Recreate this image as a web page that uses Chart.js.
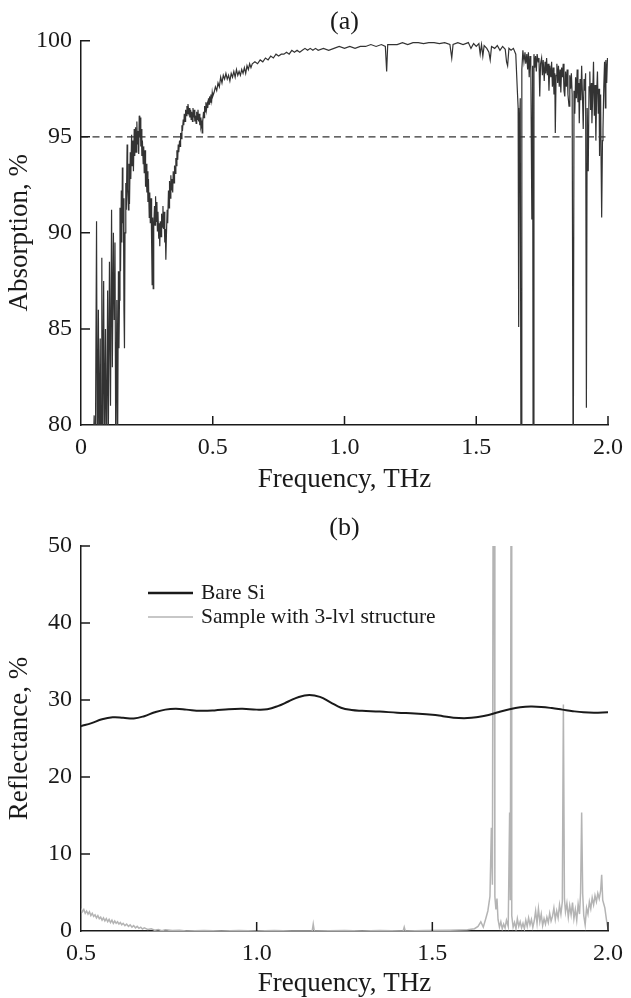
<!DOCTYPE html>
<html>
<head>
<meta charset="utf-8">
<title>Absorption and reflectance spectra</title>
<script src="https://cdn.jsdelivr.net/npm/chart.js@4.4.1/dist/chart.umd.min.js"></script>
<style>
  html, body { margin: 0; padding: 0; background: #fff; }
  #wrap { position: relative; width: 631px; height: 998px; overflow: hidden; }
  canvas { position: absolute; left: 0; }
  #absChart { top: 0; }
  #refChart { top: 498px; }
</style>
</head>
<body>
<div id="wrap">
  <canvas id="absChart" width="631" height="498"></canvas>
  <canvas id="refChart" width="631" height="500"></canvas>
</div>
<script>
// (a) absorption of the 3-level structure
const absFreq = [
  0.040, 0.050, 0.054, 0.059, 0.062, 0.066, 0.069, 0.073, 0.076, 0.079,
  0.082, 0.086, 0.089, 0.093, 0.097, 0.101, 0.104, 0.108, 0.112, 0.116,
  0.119, 0.123, 0.126, 0.129, 0.132, 0.136, 0.139, 0.142, 0.144,
  0.146, 0.148, 0.150, 0.153, 0.155, 0.157, 0.159, 0.161, 0.163, 0.165,
  0.167, 0.170, 0.172, 0.175, 0.177, 0.180, 0.182, 0.184, 0.187, 0.189,
  0.192, 0.194, 0.197, 0.199, 0.202, 0.204, 0.207, 0.209, 0.212, 0.214,
  0.217, 0.219, 0.221, 0.223, 0.225, 0.227, 0.229, 0.231, 0.233, 0.236,
  0.238, 0.240, 0.243, 0.245, 0.247, 0.250, 0.252, 0.254, 0.256, 0.259,
  0.261, 0.263, 0.266, 0.268, 0.270, 0.272, 0.274, 0.276, 0.279, 0.281,
  0.283, 0.285, 0.288, 0.290, 0.292, 0.295, 0.297, 0.299, 0.301, 0.304,
  0.306, 0.308, 0.311, 0.313, 0.315, 0.318, 0.320, 0.322, 0.324, 0.327,
  0.329, 0.332, 0.334, 0.336, 0.339, 0.341, 0.343, 0.346, 0.348, 0.350,
  0.353, 0.355, 0.357, 0.360, 0.362, 0.364, 0.367, 0.369, 0.371, 0.374,
  0.376, 0.378, 0.381, 0.383, 0.385, 0.388, 0.390, 0.392, 0.395, 0.397,
  0.399, 0.402, 0.404, 0.406, 0.409, 0.411, 0.413, 0.416, 0.418, 0.420,
  0.423, 0.425, 0.427, 0.430, 0.432, 0.434, 0.437, 0.439, 0.441, 0.444,
  0.446, 0.448, 0.451, 0.453, 0.455, 0.458, 0.460, 0.462, 0.465, 0.467,
  0.469, 0.472, 0.474, 0.476, 0.479, 0.481, 0.484, 0.486, 0.488, 0.491,
  0.493, 0.496, 0.498, 0.500, 0.505, 0.510, 0.515, 0.520, 0.525, 0.530,
  0.535, 0.540, 0.545, 0.550, 0.555, 0.560, 0.565, 0.570, 0.575, 0.580,
  0.585, 0.590, 0.595, 0.600, 0.605, 0.610, 0.615, 0.620, 0.625, 0.630,
  0.635, 0.640, 0.645, 0.650, 0.660, 0.670, 0.680, 0.690, 0.700, 0.710,
  0.720, 0.730, 0.740, 0.750, 0.760, 0.770, 0.780, 0.790, 0.800, 0.810,
  0.820, 0.830, 0.840, 0.850, 0.860, 0.870, 0.880, 0.890, 0.900, 0.920,
  0.940, 0.960, 0.980, 1.000, 1.020, 1.040, 1.060, 1.080, 1.100, 1.120,
  1.140, 1.155, 1.160, 1.164, 1.180, 1.200, 1.220, 1.240, 1.260, 1.280,
  1.300, 1.320, 1.340, 1.360, 1.380, 1.400, 1.407, 1.412, 1.430, 1.450,
  1.470, 1.480, 1.490, 1.500, 1.510, 1.515, 1.520, 1.525, 1.530, 1.540,
  1.548, 1.553, 1.558, 1.570, 1.580, 1.590, 1.600, 1.610, 1.615, 1.619,
  1.624, 1.632, 1.641, 1.650, 1.656, 1.659, 1.661, 1.664, 1.667, 1.670,
  1.673, 1.677, 1.681, 1.685, 1.688, 1.692, 1.695, 1.698, 1.701, 1.704,
  1.707, 1.711, 1.714, 1.716, 1.719, 1.722, 1.725, 1.728, 1.731, 1.735,
  1.738, 1.741, 1.744, 1.748, 1.751, 1.754, 1.758, 1.761, 1.764, 1.767,
  1.770, 1.773, 1.776, 1.779, 1.783, 1.786, 1.789, 1.792, 1.795, 1.798,
  1.800, 1.803, 1.806, 1.809, 1.812, 1.815, 1.818, 1.821, 1.824, 1.827,
  1.830, 1.833, 1.836, 1.839, 1.842, 1.845, 1.848, 1.852, 1.855, 1.858,
  1.861, 1.864, 1.868, 1.871, 1.874, 1.877, 1.880, 1.883, 1.886, 1.889,
  1.891, 1.894, 1.897, 1.900, 1.903, 1.906, 1.909, 1.912, 1.915, 1.918,
  1.921, 1.925, 1.928, 1.931, 1.934, 1.937, 1.939, 1.942, 1.945, 1.948,
  1.951, 1.954, 1.957, 1.960, 1.963, 1.966, 1.968, 1.970, 1.972, 1.974,
  1.976, 1.979, 1.981, 1.984, 1.987, 1.990, 1.992, 1.995, 1.998
];
const absValue = [
  76, 80.5, 77, 90.6, 77, 86, 78, 84.5, 77, 88.7,
  79, 87.5, 78, 85, 77.5, 87, 80, 88.5, 81, 91.2,
  83, 90, 85.5, 89.5, 78, 86.5, 79, 88, 84,
  86.5, 91.3, 88, 92.2, 89.5, 93.4, 90.5, 91.8, 86, 84,
  90, 92.6, 91.2, 94.6, 92.3, 91.2, 93.6, 91.5, 94.2, 92.8,
  95.1, 93.5, 94.8, 93.2, 95.4, 94, 95.5, 94.2, 95.8, 94.6,
  95.3, 94.1, 96.1, 95, 96, 94.5, 95.4, 94, 94.8, 93.6,
  94.5, 93.1, 94.3, 92.4, 93.6, 92.1, 93.2, 91.6, 92.8, 90.8,
  92.1, 90.5, 91.8, 89.5, 87.3, 90.8, 87.1, 90.3, 91.4, 90.4,
  91.9, 90.6, 91.6, 90.1, 91.1, 89.7, 90.5, 89.3, 90.6, 89.8,
  91, 90.3, 91.4, 90.2, 91.1, 89.5, 90.2, 88.6, 89.8, 91.2,
  90.5, 92.2, 91.3, 92.7, 91.8, 93, 92.2, 92.8, 92.1, 93.2,
  92.6, 93.5, 93.1, 93.9, 93.5, 94.3, 93.8, 94.6, 94.2, 94.8,
  94.5, 95.2, 94.9, 95.6, 95.3, 95.9, 95.6, 96.2, 95.8, 96.4,
  96.1, 96.6, 96.2, 96.7, 96.3, 96.5, 96, 96.4, 95.9, 96.3,
  95.8, 96.5, 96, 96.4, 95.8, 96.1, 95.7, 96.3, 95.9, 96.4,
  95.8, 96.2, 95.6, 96, 95.5, 95.7, 95.2, 95.8, 96.3, 96,
  96.6, 96.3, 96.8, 96.4, 96.7, 96.5, 97, 96.7, 97.1, 96.8,
  97.2, 96.9, 97.3, 97.1, 97.3, 97.6, 97.4, 97.8, 97.6, 98.1,
  97.8, 98.2, 98, 98.3, 98, 98.2, 97.9, 98.3, 98.1, 98.4,
  98.1, 98.5, 98.2, 98.4, 98.2, 98.5, 98.3, 98.6, 98.3, 98.7,
  98.5, 98.8, 98.6, 98.8, 98.9, 98.8, 99, 98.9, 99.1, 99,
  99.2, 99.1, 99.3, 99.2, 99.3, 99.3, 99.4, 99.3, 99.5, 99.4,
  99.5, 99.4, 99.5, 99.6, 99.5, 99.6, 99.5, 99.6, 99.5, 99.6,
  99.5, 99.6, 99.7, 99.6, 99.7, 99.6, 99.7, 99.7, 99.8, 99.7,
  99.8, 99.7, 98.4, 99.8, 99.8, 99.8, 99.9, 99.8, 99.9, 99.9,
  99.85, 99.9, 99.9, 99.85, 99.9, 99.8, 99.1, 99.8, 99.9, 99.8,
  99.9, 99.6, 99.85, 99.7, 99.85, 99.3, 99.8, 99.2, 99.75, 99.6,
  99.4, 99.0, 99.7, 99.6, 99.75, 99.5, 99.7, 99.55, 98.9, 98.7,
  99.6, 99.5, 99.6, 99.3, 97.4, 96.5, 85.1, 95.3, 97, 75,
  98.5, 99.5, 98.9, 99.4, 98.8, 99.3, 98.5, 99.4, 98.1, 99.2,
  98.8, 90.7, 98.7, 75, 99.3, 98.6, 99.2, 98.4, 99.3, 98.9,
  99.1, 97.1, 98.8, 99.1, 98.2, 99.0, 97.9, 98.9, 98.3, 99.1,
  98.2, 98.8, 97.4, 98.7, 98.1, 98.9, 97.6, 98.6, 97.2, 98.3,
  95.2, 98.2, 98.8, 97.8, 98.7, 97.6, 98.5, 97.3, 98.6, 98.1,
  98.8, 97.4, 97.1, 98.4, 97.6, 98.5, 97.2, 96.6, 98.2, 97.5,
  98.3, 97.2, 75, 97.4, 96.2, 98.1, 97, 98.5, 96.8, 97.8,
  95.7, 98, 96.9, 98.7, 97.2, 95.4, 98, 97.4, 98.3, 80.9,
  96.5, 93.2, 97.6, 98.4, 96.4, 97.8, 95.7, 97.2, 98.9, 96.1,
  97.7, 94.8, 97.3, 98.4, 96.2, 97.5, 94, 96.8, 97.2, 93.5,
  90.8, 94.8, 95.4, 97.6, 98.9, 96.5, 99, 97.8, 99.1
];
const absLimit = 95;
const absXTicks = [0, 0.5, 1.0, 1.5, 2.0];
const absXLabels = ['0', '0.5', '1.0', '1.5', '2.0'];
const absYTicks = [80, 85, 90, 95, 100];

// (b) reflectance
const seriesNames = ['Bare Si', 'Sample with 3-lvl structure'];
const bareFreq = [
  0.50, 0.53, 0.56, 0.59, 0.62, 0.65, 0.68, 0.71, 0.74, 0.77,
  0.80, 0.84, 0.88, 0.92, 0.96, 1.00, 1.03, 1.06, 1.09, 1.12,
  1.15, 1.18, 1.21, 1.24, 1.27, 1.30, 1.35, 1.40, 1.45, 1.50,
  1.53, 1.56, 1.60, 1.63, 1.66, 1.69, 1.72, 1.75, 1.78, 1.81,
  1.84, 1.87, 1.90, 1.93, 1.96, 2.00
];
const bareSi = [
  26.6, 27.0, 27.5, 27.75, 27.7, 27.6, 27.9, 28.4, 28.75, 28.85,
  28.75, 28.6, 28.65, 28.8, 28.85, 28.75, 28.8, 29.2, 29.8, 30.4,
  30.65, 30.4, 29.7, 29.0, 28.7, 28.6, 28.5, 28.35, 28.25, 28.1,
  27.9, 27.7, 27.65, 27.8, 28.05, 28.45, 28.8, 29.05, 29.15, 29.1,
  28.95, 28.75, 28.55, 28.4, 28.35, 28.4
];
const sampleFreq = [
  0.500, 0.504, 0.508, 0.512, 0.516, 0.520, 0.524, 0.528, 0.532, 0.536,
  0.540, 0.544, 0.548, 0.552, 0.556, 0.560, 0.564, 0.568, 0.572, 0.576,
  0.580, 0.584, 0.588, 0.592, 0.596, 0.600, 0.604, 0.608, 0.612, 0.616,
  0.620, 0.625, 0.630, 0.635, 0.640, 0.645, 0.650, 0.655, 0.660, 0.665,
  0.670, 0.675, 0.680, 0.690, 0.700, 0.710, 0.720, 0.730, 0.740, 0.760,
  0.780, 0.800, 0.850, 0.900, 0.950, 1.000, 1.050, 1.100, 1.158, 1.161,
  1.164, 1.250, 1.300, 1.350, 1.417, 1.420, 1.423, 1.480, 1.550, 1.600,
  1.620, 1.630, 1.638, 1.645, 1.652, 1.658, 1.664, 1.668, 1.671, 1.673,
  1.676, 1.678, 1.681, 1.684, 1.687, 1.691, 1.695, 1.699, 1.703, 1.707,
  1.711, 1.716, 1.720, 1.722, 1.724, 1.726, 1.730, 1.734, 1.738, 1.742,
  1.746, 1.750, 1.754, 1.758, 1.762, 1.766, 1.770, 1.774, 1.778, 1.782,
  1.786, 1.790, 1.794, 1.798, 1.802, 1.806, 1.810, 1.814, 1.818, 1.822,
  1.826, 1.830, 1.834, 1.838, 1.842, 1.846, 1.850, 1.854, 1.858, 1.862,
  1.866, 1.870, 1.873, 1.876, 1.879, 1.883, 1.887, 1.891, 1.895, 1.899,
  1.903, 1.907, 1.911, 1.915, 1.919, 1.922, 1.925, 1.928, 1.931, 1.935,
  1.939, 1.943, 1.947, 1.951, 1.955, 1.959, 1.963, 1.967, 1.971, 1.975,
  1.979, 1.982, 1.985, 1.988, 1.991, 1.994, 1.997, 2.000
];
const sampleValue = [
  2.9, 2.5, 2.8, 2.3, 2.6, 2.2, 2.5, 2.0, 2.3, 1.9,
  2.1, 1.7, 2.0, 1.6, 1.8, 1.4, 1.7, 1.3, 1.6, 1.2,
  1.5, 1.1, 1.4, 1.0, 1.3, 1.0, 1.2, 0.9, 1.1, 0.8,
  1.0, 0.7, 0.9, 0.6, 0.8, 0.5, 0.7, 0.4, 0.6, 0.35,
  0.5, 0.25, 0.4, 0.2, 0.3, 0.1, 0.2, 0.05, 0.15, 0.05,
  0.1, 0, 0.05, 0, 0.05, 0, 0.05, 0, 0, 0.9,
  0, 0.05, 0, 0.05, 0, 0.5, 0, 0.05, 0.1, 0.15,
  0.3, 0.6, 1.2, 0.5, 1.6, 2.6, 4.5, 13.4, 6, 55,
  55, 4.5, 2.8, 4.2, 1.5, 0.5, 1.2, 0.3, 0.9, 0.4,
  1.4, 0.6, 15.4, 4, 55, 2, 0.5, 1.1, 0.3, 1.6,
  0.6, 1.2, 0.4, 1.0, 0.3, 1.4, 0.6, 1.7, 0.8, 1.5,
  0.5, 1.3, 2.6, 1.0, 2.9, 1.2, 2.2, 0.7, 1.6, 0.9,
  1.8, 1.1, 2.3, 1.3, 1.9, 3.0, 1.5, 2.6, 1.7, 3.4,
  2.2, 3.8, 29.4, 4.2, 2.5, 3.6, 1.8, 3.3, 2.1, 3.7,
  1.6, 2.8, 1.4, 3.5, 2.2, 5.0, 15.4, 4.8, 2.0, 0.8,
  3.0, 2.2, 3.8, 2.9, 4.3, 3.4, 4.6, 3.8, 4.9, 4.2,
  5.2, 7.3, 4.0, 3.5, 3.0, 2.0, 1.0, 0.3
];
const refXTicks = [0.5, 1.0, 1.5, 2.0];
const refXLabels = ['0.5', '1.0', '1.5', '2.0'];
const refYTicks = [0, 10, 20, 30, 40, 50];

const ink = '#1a1a1a';
Chart.defaults.font.family = '"Liberation Serif", "DejaVu Serif", serif';
Chart.defaults.color = ink;

function toPoints(xs, ys) {
  return xs.map((x, i) => ({ x: x, y: ys[i] }));
}

// the figure has its ticks pointing into the plot
const inwardTicks = {
  id: 'inwardTicks',
  afterDraw(chart) {
    const { ctx, chartArea: a, scales: { x, y } } = chart;
    ctx.save();
    ctx.strokeStyle = ink;
    ctx.lineWidth = 1.5;
    ctx.beginPath();
    x.ticks.forEach(t => {
      const px = x.getPixelForValue(t.value);
      if (px - a.left < 2) return;
      ctx.moveTo(px, a.bottom);
      ctx.lineTo(px, a.bottom - 9);
    });
    y.ticks.forEach(t => {
      const py = y.getPixelForValue(t.value);
      if (a.bottom - py < 2) return;
      ctx.moveTo(a.left, py);
      ctx.lineTo(a.left + 9, py);
    });
    ctx.stroke();
    ctx.restore();
  }
};

// legend sitting inside the plot of (b)
const innerLegend = {
  id: 'innerLegend',
  afterDraw(chart) {
    const { ctx, chartArea: a } = chart;
    ctx.save();
    ctx.font = '21.5px "Liberation Serif"';
    ctx.textBaseline = 'middle';
    chart.data.datasets.forEach((ds, i) => {
      const yy = a.top + 47 + i * 24;
      ctx.strokeStyle = ds.borderColor;
      ctx.lineWidth = i === 0 ? 2.5 : 1.6;
      ctx.beginPath();
      ctx.moveTo(a.left + 67, yy);
      ctx.lineTo(a.left + 112, yy);
      ctx.stroke();
      ctx.fillStyle = ink;
      ctx.fillText(ds.label, a.left + 120, yy);
    });
    ctx.restore();
  }
};

function xAxis(min, max, tickValues, tickLabels, height, titleBottom) {
  return {
    type: 'linear',
    min: min,
    max: max,
    afterBuildTicks: s => { s.ticks = tickValues.map(v => ({ value: v })); },
    afterFit: s => { s.height = height; },
    ticks: {
      font: { size: 24 },
      padding: 8,
      maxRotation: 0,
      autoSkip: false,
      callback: (v, i) => tickLabels[i]
    },
    grid: { display: false, drawTicks: false },
    border: { display: true, color: ink, width: 1.5 },
    title: {
      display: true,
      text: 'Frequency, THz',
      font: { size: 27, lineHeight: 1 },
      padding: { top: 0, bottom: titleBottom }
    }
  };
}

function yAxis(min, max, tickValues, titleText) {
  return {
    min: min,
    max: max,
    afterBuildTicks: s => { s.ticks = tickValues.map(v => ({ value: v })); },
    afterFit: s => { s.width = 81; },
    ticks: { font: { size: 24 }, padding: 9, callback: v => String(v) },
    grid: { display: false, drawTicks: false },
    border: { display: true, color: ink, width: 1.5 },
    title: {
      display: true,
      text: titleText,
      font: { size: 27, lineHeight: 1 },
      padding: { top: 6.5, bottom: 0 }
    }
  };
}

function titleBlock(text, top, bottom) {
  return {
    display: true,
    text: text,
    fullSize: false,
    color: ink,
    font: { size: 26, weight: 'normal', lineHeight: 1 },
    padding: { top: top, bottom: bottom }
  };
}

new Chart(document.getElementById('absChart'), {
  type: 'line',
  data: {
    datasets: [
      {
        label: 'Absorption',
        data: toPoints(absFreq, absValue),
        borderColor: '#333333',
        borderWidth: 1.2,
        pointRadius: 0,
        tension: 0
      },
      {
        label: '95%',
        data: [{ x: absXTicks[0], y: absLimit }, { x: absXTicks[absXTicks.length - 1], y: absLimit }],
        borderColor: '#333333',
        borderWidth: 1.3,
        borderDash: [7, 4.5],
        pointRadius: 0
      }
    ]
  },
  options: {
    responsive: false,
    animation: false,
    layout: { padding: { left: 0, right: 21, top: 0, bottom: 0 } },
    plugins: {
      legend: { display: false },
      tooltip: { enabled: false },
      title: titleBlock('(a)', 9, 5.7)
    },
    scales: {
      x: xAxis(0, 2, absXTicks, absXLabels, 73, 4.5),
      y: yAxis(80, 100, absYTicks, 'Absorption, %')
    }
  },
  plugins: [inwardTicks]
});

new Chart(document.getElementById('refChart'), {
  type: 'line',
  data: {
    datasets: [
      {
        label: seriesNames[0],
        data: toPoints(bareFreq, bareSi),
        borderColor: '#1a1a1a',
        borderWidth: 2,
        pointRadius: 0,
        tension: 0.4
      },
      {
        label: seriesNames[1],
        data: toPoints(sampleFreq, sampleValue),
        borderColor: '#b4b4b4',
        borderWidth: 1.5,
        pointRadius: 0,
        tension: 0
      }
    ]
  },
  options: {
    responsive: false,
    animation: false,
    layout: { padding: { left: 0, right: 22, top: 0, bottom: 0 } },
    plugins: {
      legend: { display: false },
      tooltip: { enabled: false },
      title: titleBlock('(b)', 17, 5)
    },
    scales: {
      x: xAxis(0.5, 2, refXTicks, refXLabels, 67, 0.5),
      y: yAxis(0, 50, refYTicks, 'Reflectance, %')
    }
  },
  plugins: [inwardTicks, innerLegend]
});
</script>
</body>
</html>
